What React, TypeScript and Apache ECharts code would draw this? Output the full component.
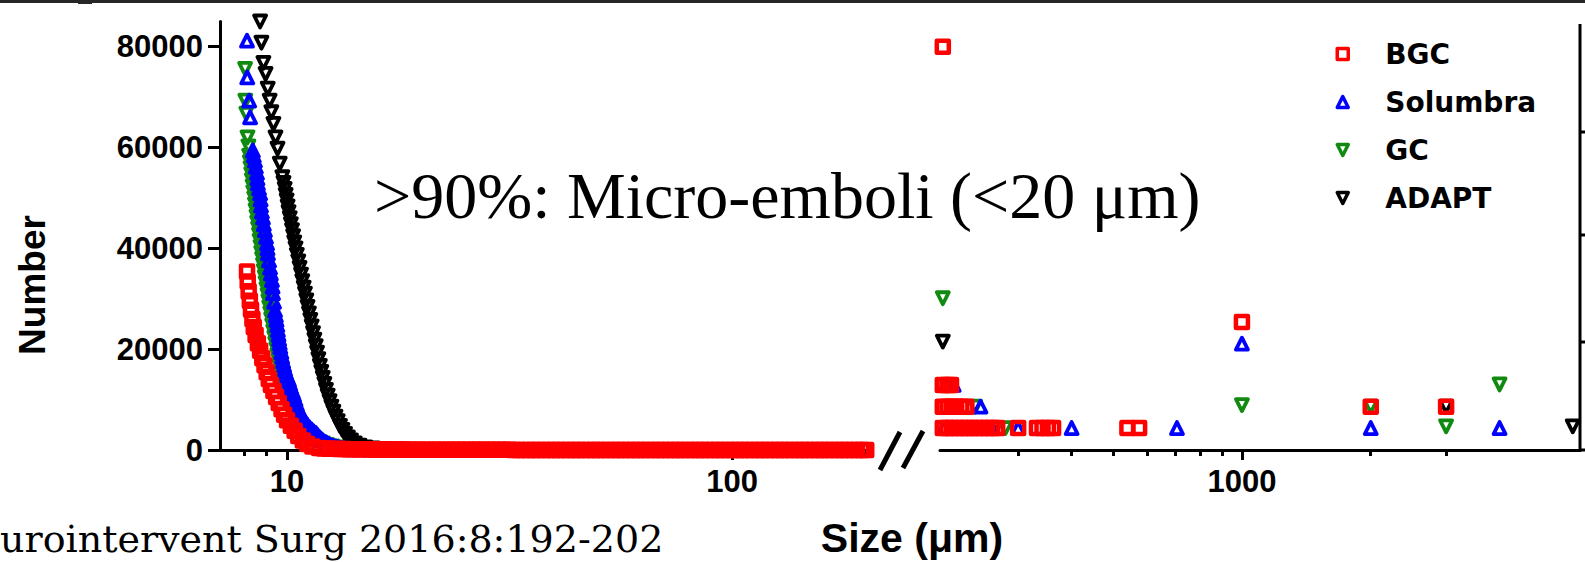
import React, { useEffect, useRef } from 'react';
import * as echarts from 'echarts';

// ---------- categories / labels ----------
const seriesNames = ['BGC', 'Solumbra', 'GC', 'ADAPT'];
const yTickValues = [0, 20000, 40000, 60000, 80000];
const xLeftLabelValues = [10, 100];
const xLeftMinorTicks = [8, 9, 20, 30, 40, 50, 60, 70, 80, 90, 200];
const xRightLabelValues = [1000];
const xRightMinorTicks = [300, 400, 500, 600, 700, 800, 900, 2000, 3000];

// ---------- left segment (size µm, number) ----------
const bgcLeft: [number, number][] = [
  [8.13, 35400], [8.16, 33400], [8.2, 31500], [8.25, 29600], [8.3, 27800], [8.36, 26000],
  [8.42, 24400], [8.5, 22800], [8.6, 21200], [8.7, 19700], [8.8, 18200], [8.9, 16800],
  [9.0, 15400], [9.1, 14100], [9.2, 12900], [9.32, 11700], [9.45, 10500], [9.58, 9300],
  [9.72, 8100], [9.85, 7000], [10.0, 5900], [10.2, 4800], [10.4, 3800], [10.6, 2800],
  [10.85, 1900], [11.1, 1200], [11.4, 700], [11.8, 400],
  [12.1, 300], [12.4, 260], [12.7, 230], [13.1, 200], [13.4, 180], [13.8, 160], [14.1, 150],
  [14.5, 140], [14.9, 130], [15.3, 120], [15.7, 110], [16.1, 100], [16.5, 100], [16.9, 90],
  [17.4, 90], [17.8, 80], [18.3, 80], [18.8, 70], [19.3, 70], [19.8, 60], [20.3, 60],
  [20.8, 60], [21.4, 50], [21.9, 50], [22.5, 50], [23.1, 50], [23.7, 40], [24.3, 40],
  [24.9, 40], [25.6, 40], [26.3, 40], [26.9, 30], [27.6, 30], [28.4, 30], [29.1, 30],
  [29.9, 30], [30.7, 30], [31.5, 30], [32.3, 20], [33.1, 20], [34.0, 20], [34.9, 20],
  [35.8, 20], [36.7, 20], [37.7, 20], [38.7, 20], [39.7, 20], [40.7, 20], [41.8, 10],
  [42.9, 10], [44.0, 10], [45.1, 10], [46.3, 10], [47.5, 10], [48.8, 10], [50.0, 10],
  [51.3, 10], [52.7, 10], [54.1, 10], [55.5, 10], [56.9, 10], [58.4, 10], [59.9, 10],
  [61.5, 10], [63.1, 10], [64.7, 10], [66.4, 0], [68.2, 0], [69.9, 0], [71.8, 0],
  [73.6, 0], [75.5, 0], [77.5, 0], [79.5, 0], [81.6, 0], [83.7, 0], [85.9, 0], [88.1, 0],
  [90.4, 0], [92.8, 0], [95.2, 0], [97.7, 0], [100.2, 0], [102.8, 0], [105.5, 0],
  [108.3, 0], [111.1, 0], [114.0, 0], [117.0, 0], [120.0, 0], [123.1, 0], [126.3, 0],
  [129.6, 0], [133.0, 0], [136.5, 0], [140.0, 0], [143.7, 0], [147.4, 0], [151.3, 0],
  [155.2, 0], [159.3, 0], [163.4, 0], [167.7, 0], [172.0, 0], [176.5, 0], [181.1, 0],
  [185.9, 0], [190.7, 0], [195.7, 0], [200.0, 0],
];

const solumbraLeft: [number, number][] = [
  [8.13, 81200], [8.14, 73900], [8.22, 69300], [8.26, 66000], [8.38, 59400], [8.42, 58400],
  [8.47, 57400], [8.51, 56200], [8.56, 55000], [8.58, 53900], [8.6, 52900], [8.65, 51900],
  [8.7, 50900], [8.72, 49700], [8.74, 48500], [8.78, 47300], [8.83, 46100], [8.87, 44800],
  [8.92, 43600], [8.97, 42300], [9.02, 41000], [9.04, 40000], [9.06, 39000], [9.11, 37600],
  [9.16, 36200], [9.2, 35000], [9.25, 33700], [9.28, 32400], [9.3, 31100], [9.35, 29400],
  [9.4, 27700], [9.44, 26700], [9.47, 25800], [9.51, 24800], [9.54, 23800], [9.57, 22900],
  [9.6, 22000], [9.63, 21200], [9.66, 20400], [9.71, 19400], [9.75, 18500], [9.8, 17600],
  [9.85, 16800], [9.9, 16000], [9.95, 15300], [10.02, 14600], [10.1, 13900], [10.16, 13100],
  [10.22, 12400], [10.3, 11600], [10.37, 10900], [10.45, 10000], [10.52, 9100], [10.6, 8200],
  [10.7, 7300], [10.8, 6700], [10.9, 6100], [11.0, 5500], [11.1, 5000], [11.22, 4500],
  [11.35, 4100], [11.47, 3700], [11.6, 3400], [11.7, 3000], [11.8, 2600], [11.9, 2300],
  [12.0, 2000], [12.12, 1700], [12.25, 1500], [12.38, 1200], [12.5, 1000], [12.68, 850],
  [12.85, 700], [13.0, 550], [13.2, 400], [13.5, 300], [13.8, 250], [14.5, 150], [16, 100],
  [18, 50], [22, 0],
];

const gcLeft: [number, number][] = [
  [8.05, 75600], [8.06, 69300], [8.1, 66700], [8.15, 62000], [8.19, 60200], [8.22, 58400],
  [8.25, 57100], [8.28, 55900], [8.31, 54700], [8.34, 53500], [8.37, 52300], [8.4, 51100],
  [8.44, 49900], [8.47, 48700], [8.5, 47500], [8.54, 46300], [8.57, 45100], [8.61, 43900],
  [8.65, 42700], [8.68, 41500], [8.72, 40300], [8.75, 39100], [8.79, 37900], [8.83, 36700],
  [8.87, 35500], [8.91, 34300], [8.95, 33100], [8.99, 31900], [9.04, 30700], [9.08, 29500],
  [9.12, 28300], [9.17, 27100], [9.21, 25900], [9.26, 24700], [9.31, 23500], [9.36, 22300],
  [9.41, 21100], [9.46, 20000], [9.51, 18800], [9.57, 17700], [9.63, 16600], [9.69, 15500],
  [9.75, 14400], [9.82, 13300], [9.89, 12300], [9.96, 11300], [10.04, 10300], [10.12, 9400],
  [10.21, 8500], [10.3, 7600], [10.4, 6800], [10.5, 6000], [10.62, 5300], [10.75, 4600],
  [10.9, 4000], [11.05, 3400], [11.22, 2900], [11.4, 2400], [11.6, 2000], [11.8, 1600],
  [12.05, 1300], [12.3, 1000], [12.65, 700], [13.0, 500], [13.5, 350], [14.0, 250],
  [15, 150], [16, 100], [19, 50], [23, 0],
];

const adaptLeft: [number, number][] = [
  [8.7, 85000], [8.76, 80800], [8.85, 76800], [8.95, 74600], [9.05, 71700], [9.14, 69300],
  [9.22, 67000], [9.32, 64700], [9.42, 62000], [9.52, 59800], [9.63, 56800], [9.76, 54100],
  [9.82, 53000], [9.88, 51800], [9.93, 50600], [9.98, 49500], [10.03, 48300], [10.08, 47200],
  [10.14, 46000], [10.2, 44800], [10.26, 43600], [10.32, 42400], [10.38, 41200], [10.45, 40000],
  [10.52, 38700], [10.6, 37400], [10.67, 36100], [10.75, 34800], [10.82, 33500], [10.9, 32200],
  [10.97, 31000], [11.05, 29700], [11.12, 28400], [11.2, 27100], [11.28, 25800], [11.36, 24500],
  [11.44, 23200], [11.52, 21900], [11.6, 20600], [11.68, 19300], [11.76, 18000], [11.85, 16700],
  [11.94, 15500], [12.03, 14300], [12.13, 13100], [12.23, 11900], [12.34, 10800], [12.46, 9700],
  [12.58, 8600], [12.71, 7600], [12.85, 6600], [13.0, 5700], [13.15, 4800], [13.32, 4000],
  [13.5, 3200], [13.7, 2500], [13.92, 1900], [14.2, 1300], [14.55, 850], [15.0, 500],
  [15.6, 300], [16.5, 150], [18, 80], [21, 40], [25, 0],
];

// ---------- right segment (size µm, number) ----------
const bgcRight: [number, number][] = [
  [200, 80000], [200, 12900], [205, 12900], [209, 12900],
  [200, 8600], [205, 8600], [210, 8600], [215, 8600], [221, 8600], [227, 8600],
  [200, 4350], [205, 4350], [210, 4350], [216, 4350], [222, 4350], [228, 4350], [234, 4350],
  [240, 4350], [247, 4350], [254, 4350], [261, 4350], [268, 4350], [300, 4350],
  [332, 4350], [342, 4350], [352, 4350], [362, 4350], [540, 4350], [575, 4350],
  [1000, 25400], [2000, 8600], [3000, 8600],
];
const solumbraRight: [number, number][] = [
  [203, 12900], [212, 12900], [245, 8600], [201, 4350], [218, 4350], [233, 4350],
  [260, 4350], [300, 4350], [400, 4350], [705, 4350], [1000, 21100], [2000, 4350], [4000, 4350],
];
const gcRight: [number, number][] = [
  [200, 30100], [238, 8600], [280, 4350], [1000, 8900], [2000, 8600], [3000, 4700], [4000, 13000],
];
const adaptRight: [number, number][] = [
  [200, 21500], [262, 4350], [3000, 8600], [5930, 4700],
];

const colors: Record<string, string> = {
  BGC: '#ff0000',
  Solumbra: '#0000ff',
  GC: '#118a11',
  ADAPT: '#000000',
};

const SANS = '"Liberation Sans", Arial, sans-serif';
const DOWN_TRIANGLE = 'path://M0,0L10,0L5,10Z';

function makeSeries(name: string, data: [number, number][], xi: number, yi: number) {
  const isRect = name === 'BGC';
  const down = name === 'GC' || name === 'ADAPT';
  return {
    type: 'scatter',
    name,
    data,
    xAxisIndex: xi,
    yAxisIndex: yi,
    symbol: isRect ? 'rect' : 'triangle',
    symbolRotate: down ? 180 : 0,
    symbolSize: 12,
    silent: true,
    emphasis: { disabled: true },
    itemStyle: {
      color: 'rgba(255,255,255,0)',
      borderColor: colors[name],
      borderWidth: isRect ? 4.5 : 3.8,
      borderJoin: 'round',
      opacity: 1,
    },
  };
}

const fmt = (v: number) => String(Math.round(v));
const tickLine = { color: '#000', width: 3 };
const labelStyle = { fontFamily: SANS, fontWeight: 'bold', fontSize: 31, color: '#000' };

export default function App() {
  const ref = useRef<HTMLDivElement>(null);
  useEffect(() => {
    if (!ref.current) return;
    const chart = echarts.init(ref.current, undefined, { renderer: 'svg' });
    const option: any = {
      animation: false,
      backgroundColor: '#ffffff',
      grid: [
        { left: 220, top: 21.5, width: 651, height: 428.5 },
        { left: 940, top: 21.5, width: 640, height: 428.5 },
      ],
      xAxis: [
        {
          type: 'log', logBase: 10, gridIndex: 0, position: 'bottom', min: 7.07, max: 205,
          axisLine: { show: true, lineStyle: tickLine },
          axisTick: { show: true, customValues: xLeftLabelValues, length: 10, lineStyle: tickLine },
          axisLabel: { show: true, customValues: xLeftLabelValues, formatter: fmt, margin: 16, ...labelStyle },
          splitLine: { show: false }, minorTick: { show: false }, minorSplitLine: { show: false },
        },
        {
          type: 'log', logBase: 10, gridIndex: 0, position: 'bottom', min: 7.07, max: 205,
          axisLine: { show: false },
          axisTick: { show: true, customValues: xLeftMinorTicks, length: 6, lineStyle: tickLine },
          axisLabel: { show: false },
          splitLine: { show: false },
        },
        {
          type: 'log', logBase: 10, gridIndex: 1, position: 'bottom', min: 197, max: 6166,
          axisLine: { show: true, lineStyle: tickLine },
          axisTick: { show: true, customValues: xRightLabelValues, length: 10, lineStyle: tickLine },
          axisLabel: { show: true, customValues: xRightLabelValues, formatter: fmt, margin: 16, ...labelStyle },
          splitLine: { show: false }, minorTick: { show: false }, minorSplitLine: { show: false },
        },
        {
          type: 'log', logBase: 10, gridIndex: 1, position: 'bottom', min: 197, max: 6166,
          axisLine: { show: false },
          axisTick: { show: true, customValues: xRightMinorTicks, length: 6, lineStyle: tickLine },
          axisLabel: { show: false },
          splitLine: { show: false },
        },
      ],
      yAxis: [
        {
          type: 'value', gridIndex: 0, min: 0, max: 85000,
          axisLine: { show: true, lineStyle: tickLine },
          axisTick: { show: true, customValues: yTickValues, length: 12, lineStyle: tickLine },
          axisLabel: { show: true, customValues: yTickValues, formatter: fmt, margin: 17, ...labelStyle },
          splitLine: { show: false },
        },
        { type: 'value', gridIndex: 1, min: 0, max: 85000, show: false, splitLine: { show: false } },
      ],
      legend: {
        data: [
          { name: seriesNames[0], icon: 'rect' },
          { name: seriesNames[1], icon: 'triangle' },
          { name: seriesNames[2], icon: DOWN_TRIANGLE },
          { name: seriesNames[3], icon: DOWN_TRIANGLE },
        ],
        orient: 'vertical',
        left: 1330.5,
        top: 35,
        itemWidth: 11,
        itemHeight: 11,
        itemGap: 20,
        selectedMode: false,
        itemStyle: { borderWidth: 3.5 },
        textStyle: {
          fontFamily: '"DejaVu Sans", sans-serif',
          fontWeight: 'bold',
          fontSize: 28,
          color: '#000',
          padding: [0, 0, 0, 32],
        },
      },
      series: [
        makeSeries('GC', gcLeft, 0, 0),
        makeSeries('ADAPT', adaptLeft, 0, 0),
        makeSeries('Solumbra', solumbraLeft, 0, 0),
        makeSeries('BGC', bgcLeft, 0, 0),
        makeSeries('GC', gcRight, 2, 1),
        makeSeries('ADAPT', adaptRight, 2, 1),
        makeSeries('Solumbra', solumbraRight, 2, 1),
        makeSeries('BGC', bgcRight, 2, 1),
      ],
      graphic: [
        { type: 'rect', shape: { x: 0, y: 0, width: 1585, height: 3 }, style: { fill: '#262626' } },
        { type: 'rect', shape: { x: 78, y: 0, width: 14, height: 4 }, style: { fill: '#262626' } },
        { type: 'line', shape: { x1: 900, y1: 432, x2: 880, y2: 470 }, style: { stroke: '#000', lineWidth: 5 } },
        { type: 'line', shape: { x1: 923, y1: 431, x2: 903, y2: 468 }, style: { stroke: '#000', lineWidth: 5 } },
        { type: 'line', shape: { x1: 1580, y1: 24, x2: 1580, y2: 451.5 }, style: { stroke: '#000', lineWidth: 3 } },
        { type: 'line', shape: { x1: 1580, y1: 450, x2: 1585, y2: 450 }, style: { stroke: '#000', lineWidth: 3 } },
        { type: 'line', shape: { x1: 1580, y1: 132, x2: 1585, y2: 132 }, style: { stroke: '#000', lineWidth: 3 } },
        { type: 'line', shape: { x1: 1580, y1: 235, x2: 1585, y2: 235 }, style: { stroke: '#000', lineWidth: 3 } },
        { type: 'line', shape: { x1: 1580, y1: 342, x2: 1585, y2: 342 }, style: { stroke: '#000', lineWidth: 3 } },
        {
          type: 'text', x: 32, y: 285, rotation: Math.PI / 2,
          style: {
            text: 'Number', fontFamily: SANS, fontWeight: 'bold', fontSize: 37, fill: '#000',
            align: 'center', verticalAlign: 'middle', textAlign: 'center', textVerticalAlign: 'middle',
          },
        },
        {
          type: 'text', x: 912, y: 538,
          style: {
            text: 'Size (μm)', fontFamily: SANS, fontWeight: 'bold', fontSize: 41, fill: '#000',
            align: 'center', verticalAlign: 'middle', textAlign: 'center', textVerticalAlign: 'middle',
          },
        },
        {
          type: 'text', x: 374, y: 195,
          style: {
            text: '>90%: Micro-emboli (<20 μm)', fontFamily: '"Liberation Serif", "Times New Roman", serif',
            fontSize: 66, fill: '#000',
            align: 'left', verticalAlign: 'middle', textAlign: 'left', textVerticalAlign: 'middle',
          },
        },
        {
          type: 'text', x: 0, y: 539,
          style: {
            text: 'urointervent Surg 2016:8:192-202', fontFamily: '"DejaVu Serif", serif',
            fontSize: 38, fill: '#000',
            align: 'left', verticalAlign: 'middle', textAlign: 'left', textVerticalAlign: 'middle',
          },
        },
      ],
    };
    chart.setOption(option);
    return () => chart.dispose();
  }, []);
  return (
    <div
      ref={ref}
      style={{ position: 'fixed', left: 0, top: 0, width: 1585, height: 562, background: '#fff' }}
    />
  );
}
